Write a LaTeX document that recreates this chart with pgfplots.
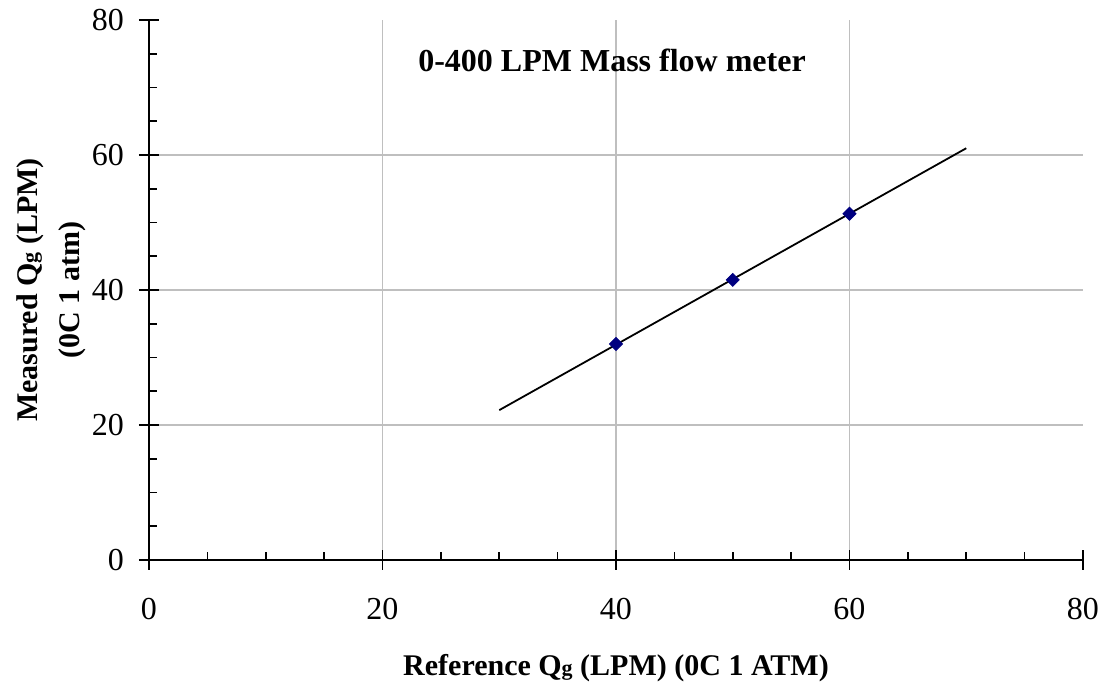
\documentclass[border=0pt]{standalone}
\usepackage{pgfplots}
\pgfplotsset{compat=1.18}
\usepackage{fontspec}
\setmainfont{Liberation Serif}
\definecolor{navy}{HTML}{000080}
\begin{document}
\begin{tikzpicture}
\path[use as bounding box] (0,0) rectangle (553.5pt,344pt);
% grid and minor ticks
\begin{axis}[
 at={(74.5pt,64pt)}, anchor=south west,
 scale only axis, width=467pt, height=270pt,
 xmin=0,xmax=80,ymin=0,ymax=80,
 axis x line*=bottom, axis y line*=left, axis line style={draw=none},
 xtick={20,40,60}, ytick={20,40,60}, xticklabels={}, yticklabels={},
 major tick length=0pt,
 minor xtick={5,10,15,25,30,35,45,50,55,65,70,75},
 minor ytick={5,10,15,25,30,35,45,50,55,65,70,75},
 tick align=inside, minor tick length=4pt,
 minor tick style={black, line width=0.8pt},
 grid=major, major grid style={color=black!25, line width=0.8pt},
]
\end{axis}
\begin{axis}[
 at={(74.5pt,64pt)}, anchor=south west,
 scale only axis, width=467pt, height=270pt,
 xmin=0,xmax=80,ymin=0,ymax=80,
 axis x line*=bottom, axis y line*=left, axis line style={-, line width=1.1pt},
 xtick={0,20,...,80}, ytick={0,20,...,80},
 tick align=center, major tick length=10pt, major tick style={black, line width=0.8pt},
 ticklabel style={font=\fontsize{16}{19}\selectfont},
 xticklabel style={yshift=-10.5pt},
 yticklabel style={xshift=-4pt},
 /pgf/number format/assume math mode=true,
 xlabel={\textbf{Reference Q{\fontsize{11}{13}\selectfont g} (LPM) (0C 1 ATM)}},
 ylabel={\textbf{Measured Q{\fontsize{11}{13}\selectfont g} (LPM)}\\[3pt]\textbf{(0C 1 atm)}},
 label style={font=\fontsize{15}{18}\selectfont},
 xlabel style={at={(axis description cs:0.5,-0.2)}, anchor=center},
 ylabel style={at={(axis description cs:-0.105,0.5)}, anchor=center, align=center},
 clip=false,
]
\addplot[black, line width=0.9pt] coordinates {(30,22.2) (70,61.0)};
\addplot[only marks, mark=square*, mark size=2.3pt, mark options={rotate=45}, color=navy] coordinates {(40,32.0) (50,41.5) (60,51.3)};
\node[anchor=base, font=\fontsize{16}{19}\selectfont\bfseries] at (axis cs:39.66,72.3) {0-400 LPM Mass flow meter};
\end{axis}
\end{tikzpicture}
\end{document}
